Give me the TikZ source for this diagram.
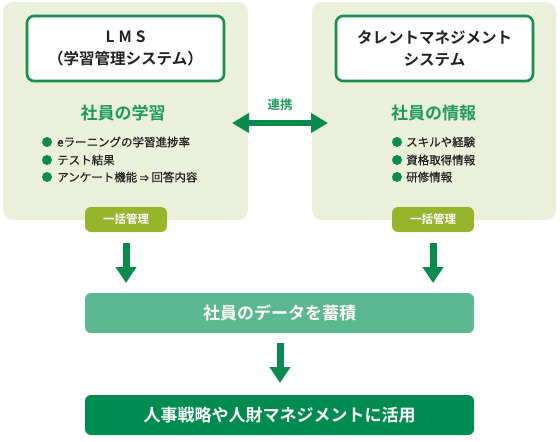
\documentclass[tikz,border=0pt]{standalone}
\usepackage{fontspec}
\setmainfont{Noto Sans CJK JP}[BoldFont={Noto Sans CJK JP Bold}]
\newfontfamily\itemfont{Noto Sans CJK JP}[FakeBold=0.5]
\usetikzlibrary{arrows.meta}
\definecolor{panelbg}{HTML}{EBF0DB}
\definecolor{boxgreen}{HTML}{17904F}
\definecolor{titlegreen}{HTML}{1E9A5C}
\definecolor{dotgreen}{HTML}{0E8C50}
\definecolor{badgecol}{HTML}{96B42C}
\definecolor{datacol}{HTML}{5CB793}
\definecolor{usecol}{HTML}{008C50}
\definecolor{arrowcol}{HTML}{0B8A4D}
\definecolor{txt}{HTML}{222222}
\tikzset{
  panel/.style={fill=panelbg, rounded corners=10pt, inner sep=0pt, draw=none},
  sysbox/.style={fill=white, draw=boxgreen, line width=2.6pt, rounded corners=7pt, inner sep=0pt,
    minimum width=197pt, minimum height=65pt, align=center, text=txt,
    font=\bfseries\fontsize{15.5}{22}\selectfont},
  sectitle/.style={text=titlegreen, font=\bfseries\fontsize{17}{20}\selectfont, inner sep=0pt},
  item/.style={anchor=west, text=txt, font=\itemfont\fontsize{11.5}{13}\selectfont, inner sep=0pt},
  dotmark/.style={circle, fill=dotgreen, minimum size=10pt, inner sep=0pt},
  badge/.style={fill=badgecol, rounded corners=6pt, minimum width=82pt, minimum height=25pt, inner sep=0pt,
    text=white, font=\bfseries\fontsize{11.5}{13}\selectfont},
  wide/.style={rounded corners=6pt, minimum width=389pt, minimum height=40pt, inner sep=0pt,
    text=white, font=\bfseries\fontsize{17}{20}\selectfont},
  bigarrow/.style={draw=arrowcol, line width=7pt, -{Triangle[width=20pt,length=16pt]}},
  duoarrow/.style={draw=arrowcol, line width=6pt, {Triangle[width=19pt,length=17pt]}-{Triangle[width=19pt,length=17pt]}},
}
\begin{document}
\begin{tikzpicture}[x=1pt,y=-1pt]
\useasboundingbox (0,0) rectangle (560,442);
% panels
\node[panel, minimum width=245pt, minimum height=218pt] (lpanel) at (125.5,111) {};
\node[panel, minimum width=244pt, minimum height=218pt] (rpanel) at (434,111) {};
% system boxes
\node[sysbox] (lms) at (125.5,48.5) {L\hspace{4pt}M\hspace{4pt}S\\（学習管理システム）};
\node[sysbox] (tms) at (434.5,48.5) {タレントマネジメント\\システム};
% section titles
\node[sectitle] (ltitle) at (123,113) {社員の学習};
\node[sectitle] (rtitle) at (433.5,113) {社員の情報};
% left items
\node[dotmark] (ld1) at (47,142) {};
\node[dotmark] (ld2) at (47,160) {};
\node[dotmark] (ld3) at (47,177) {};
\node[item] (li1) at (57,142) {eラーニングの学習進捗率};
\node[item] (li2) at (57,160) {テスト結果};
\node[item] (li3) at (57,177) {アンケート機能 {\fontsize{9}{10}\selectfont ⇒} 回答内容};
% right items
\node[dotmark] (rd1) at (397,142) {};
\node[dotmark] (rd2) at (397,160) {};
\node[dotmark] (rd3) at (397,177) {};
\node[item] (ri1) at (406,142) {スキルや経験};
\node[item] (ri2) at (406,160) {資格取得情報};
\node[item] (ri3) at (406,177) {研修情報};
% badges
\node[badge] (lbadge) at (126,219.5) {一括管理};
\node[badge] (rbadge) at (433,219.5) {一括管理};
% link arrow
\coordinate (linkL) at (232,123);
\coordinate (linkR) at (328,123);
\draw[duoarrow] (linkL) -- (linkR);
\node[text=titlegreen, font=\bfseries\fontsize{12.5}{14}\selectfont, inner sep=0pt] (linklabel) at (280,105) {連携};
% wide boxes
\node[wide, fill=datacol] (data) at (279.5,313) {社員のデータを蓄積};
\node[wide, fill=usecol] (use) at (279.5,415) {人事戦略や人財マネジメントに活用};
% down arrows
\coordinate (la1) at (126,243);
\coordinate (la2) at (126,283);
\coordinate (ra1) at (433,243);
\coordinate (ra2) at (433,283);
\coordinate (ma1) at (280,343);
\coordinate (ma2) at (280,383);
\draw[bigarrow] (la1) -- (la2);
\draw[bigarrow] (ra1) -- (ra2);
\draw[bigarrow] (ma1) -- (ma2);
\end{tikzpicture}
\end{document}
